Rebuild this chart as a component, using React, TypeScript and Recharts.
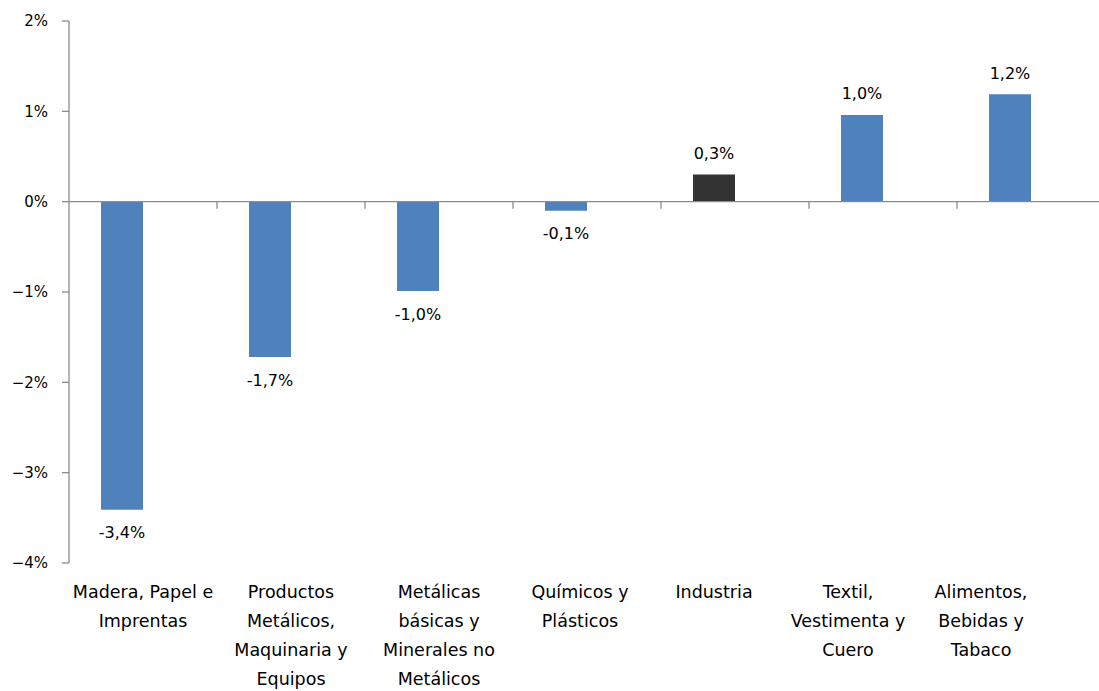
import { Bar, BarChart, Cell, LabelList, ReferenceLine, XAxis, YAxis } from 'recharts';

const categoryLines = [
  ['Madera, Papel e', 'Imprentas'],
  ['Productos', 'Metálicos,', 'Maquinaria y', 'Equipos'],
  ['Metálicas', 'básicas y', 'Minerales no', 'Metálicos'],
  ['Químicos y', 'Plásticos'],
  ['Industria'],
  ['Textil,', 'Vestimenta y', 'Cuero'],
  ['Alimentos,', 'Bebidas y', 'Tabaco'],
];
const categories = categoryLines.map((lines) => lines.join(' '));
const variation = [-3.41, -1.72, -0.99, -0.1, 0.3, 0.96, 1.19];
const yTicks = [-4, -3, -2, -1, 0, 1, 2];
const highlighted = 'Industria';

// excel squeezes the right-hand labels leftwards; mimic that
const tickShift = [0, 0, 0, -7, -21, -35, -50];

const blue = '#4f81bd';
const dark = '#333333';
const axisGrey = '#8c8c8c';
const font = '"DejaVu Sans", Verdana, sans-serif';

const data = categories.map((name, i) => ({ name, value: variation[i] }));

const fmtTick = (v: number) => (v < 0 ? `\u2212${Math.abs(v)}%` : `${v}%`);
const fmtLabel = (v: number) => `${v.toFixed(1).replace('.', ',')}%`;

function CategoryTick(props: any) {
  const { x, y, payload, index } = props;
  const lines = categoryLines[index] ?? [String(payload.value)];
  const cx = x + (tickShift[index] ?? 0);
  return (
    <text x={cx} y={y} textAnchor="middle" fontSize={17.5} fontFamily={font} fill="#000">
      {lines.map((line, i) => (
        <tspan key={line} x={cx} dy={i === 0 ? 27 : 29}>
          {line}
        </tspan>
      ))}
    </text>
  );
}

function ValueLabel(props: any) {
  const { x, y, width, height, value } = props;
  if (value == null) return null;
  const top = Math.min(y, y + height);
  const bottom = Math.max(y, y + height);
  const ty = value >= 0 ? top - 21 : bottom + 23;
  return (
    <text x={x + width / 2} y={ty} dy={5.5} textAnchor="middle" fontSize={16} fontFamily={font} fill="#000">
      {fmtLabel(value)}
    </text>
  );
}

function ZeroAxis(props: any) {
  const { x1, x2, y1 } = props;
  const step = (x2 - x1) / categories.length;
  return (
    <g>
      <line x1={x1} x2={x2} y1={y1} y2={y1} stroke={axisGrey} strokeWidth={1.3} />
      {categories.map((c, i) => (
        <line
          key={c}
          x1={x1 + step * (i + 1)}
          x2={x1 + step * (i + 1)}
          y1={y1}
          y2={y1 + 7}
          stroke={axisGrey}
          strokeWidth={1.3}
        />
      ))}
    </g>
  );
}

export default function App() {
  return (
    <div style={{ position: 'fixed', top: 0, left: 0, width: 1099, height: 691, overflow: 'hidden', background: '#fff' }}>
      <BarChart
        width={1110}
        height={691}
        data={data}
        margin={{ top: 21, right: 5, bottom: 0, left: 0 }}
        barGap={0}
        barSize={42}
      >
        <XAxis
          dataKey="name"
          height={128}
          axisLine={false}
          tickLine={false}
          interval={0}
          tick={<CategoryTick />}
        />
        <YAxis
          width={69}
          domain={[-4, 2]}
          ticks={yTicks}
          tickFormatter={fmtTick}
          tickSize={7}
          tickMargin={14}
          axisLine={{ stroke: axisGrey, strokeWidth: 1.3 }}
          tickLine={{ stroke: axisGrey, strokeWidth: 1.3 }}
          tick={{ fill: '#000', fontSize: 15, fontFamily: font }}
          allowDataOverflow
        />
        <Bar dataKey="value" isAnimationActive={false}>
          {data.map((d) => (
            <Cell key={d.name} fill={d.name === highlighted ? dark : blue} />
          ))}
          <LabelList dataKey="value" content={<ValueLabel />} />
        </Bar>
        <Bar dataKey="spacer" isAnimationActive={false} fill="none" />
        <ReferenceLine y={0} shape={<ZeroAxis />} />
      </BarChart>
    </div>
  );
}
